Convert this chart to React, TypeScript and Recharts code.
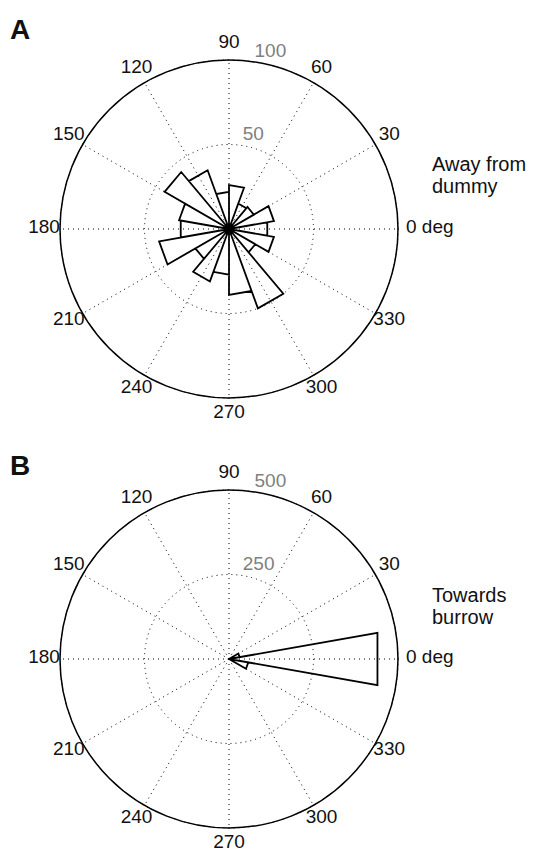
import { RadarChart, Radar, PolarGrid, PolarAngleAxis, PolarRadiusAxis } from "recharts";

// 20 deg bins, centred on 0, 20, ... 340
const binCenters = [0, 20, 40, 60, 80, 100, 120, 140, 160, 180, 200, 220, 240, 260, 280, 300, 320, 340];
const binWidth = 20;

// counts
const awayCounts = [23, 27, 17, 16, 26, 22, 37, 44, 30, 29, 42, 23, 33, 27, 39, 50, 18, 27];
const towardsCounts = [446, 32, 0, 0, 0, 0, 0, 0, 0, 0, 0, 0, 0, 0, 0, 0, 0, 58];

const angleTicks = [0, 30, 60, 90, 120, 150, 180, 210, 240, 270, 300, 330];

const FONT = "'Liberation Sans', Arial, Helvetica, sans-serif";

// MATLAB-style rose outline: centre -> low edge -> high edge -> centre
const roseOutline = (counts: number[]) =>
  binCenters.flatMap((c, i) => {
    const lo = (c - binWidth / 2 + 360) % 360;
    const hi = c + binWidth / 2;
    return [
      { angle: lo, r: counts[i] },
      { angle: hi, r: counts[i] },
      { angle: hi, r: 0 },
    ];
  });

const AngleTick = (props: any) => {
  const { x, y, payload } = props;
  const v = payload.value;
  if (v === 0) {
    return (
      <text x={x - 8} y={y - 3} dy="0.36em" textAnchor="start" fontSize={19} fontFamily={FONT} fill="#111">
        0 deg
      </text>
    );
  }
  return (
    <text x={x} y={y - 3} dy="0.36em" textAnchor="middle" fontSize={19} fontFamily={FONT} fill="#111">
      {v}
    </text>
  );
};

const RadiusTick = (props: any) => {
  const { x, y, payload } = props;
  if (payload.value === 0) return null;
  return (
    <text x={x + 2} y={y - 5} textAnchor="start" fontSize={19} fontFamily={FONT} fill="#808080">
      {payload.value}
    </text>
  );
};

function Rose({ counts, max }: { counts: number[]; max: number }) {
  return (
    <RadarChart
      width={538}
      height={430}
      cx={229}
      cy={229}
      outerRadius={169}
      startAngle={0}
      endAngle={360}
      data={roseOutline(counts)}
      margin={{ top: 0, right: 0, bottom: 0, left: 0 }}
    >
      <PolarGrid gridType="circle" stroke="#000" strokeDasharray="1 4" strokeWidth={1} />
      <PolarAngleAxis
        dataKey="angle"
        type="number"
        domain={[0, 360]}
        ticks={angleTicks}
        axisLineType="circle"
        axisLine={{ stroke: "#000", strokeWidth: 1.5 }}
        tickLine={false}
        tickSize={16}
        tick={AngleTick}
      />
      <PolarRadiusAxis
        angle={82}
        domain={[0, max]}
        tickCount={3}
        axisLine={false}
        tickLine={false}
        tick={RadiusTick}
      />
      <Radar
        dataKey="r"
        stroke="#000"
        strokeWidth={1.8}
        fill="none"
        fillOpacity={0}
        dot={false}
        isAnimationActive={false}
      />
    </RadarChart>
  );
}

export default function App() {
  const label: React.CSSProperties = { position: "absolute", fontFamily: FONT, color: "#111" };
  const note: React.CSSProperties = { ...label, left: 432, fontSize: 20, lineHeight: "22px", whiteSpace: "nowrap" };
  return (
    <div style={{ position: "absolute", left: 0, top: 0, width: 538, height: 854, background: "#fff" }}>
      <Rose counts={awayCounts} max={100} />
      <Rose counts={towardsCounts} max={500} />
      <div style={{ ...label, left: 10, top: 16, fontSize: 28, fontWeight: "bold", lineHeight: "28px" }}>A</div>
      <div style={{ ...label, left: 10, top: 452, fontSize: 28, fontWeight: "bold", lineHeight: "28px" }}>B</div>
      <div style={{ ...note, top: 153 }}>Away from</div>
      <div style={{ ...note, top: 175 }}>dummy</div>
      <div style={{ ...note, top: 584 }}>Towards</div>
      <div style={{ ...note, top: 606 }}>burrow</div>
    </div>
  );
}
